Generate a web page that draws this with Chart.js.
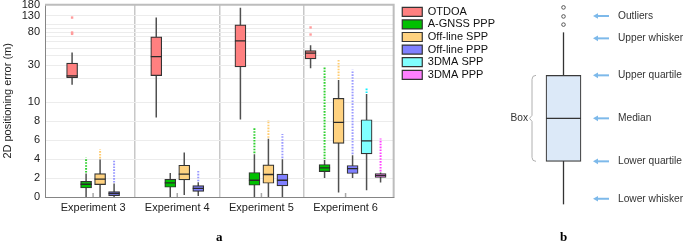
<!DOCTYPE html>
<html lang="en">
<head>
<meta charset="UTF-8">
<title>2D positioning error per experiment</title>
<script src="https://cdn.jsdelivr.net/npm/chart.js@4.4.1/dist/chart.umd.min.js"></script>
<style>
  body { margin: 0; background: #fff; }
  .figure { position: relative; width: 685px; height: 244px; overflow: hidden; background: #fff; }
  #panelA { position: absolute; left: 0; top: 0; }
  #panelB { position: absolute; left: 480px; top: 0; }
</style>
</head>
<body>
<div class="figure">
  <canvas id="panelB" width="205" height="244"></canvas>
  <canvas id="panelA" width="506" height="244"></canvas>
</div>
<script>
// ---- panel a data (metres), rows = methods, columns = experiments, null = not run
const experiments = ['Experiment 3', 'Experiment 4', 'Experiment 5', 'Experiment 6'];
const methods = ['OTDOA', 'A-GNSS PPP', 'Off-line SPP', 'Off-line PPP', '3DMA SPP', '3DMA PPP'];

const lowerWhisker = [
  [16.9, 8.4, 8.2, 27.5],
  [0, 0, 0, 2.0],
  [0, 0.2, 0, 0.47],
  [0, 0.1, 0, 2.0],
  [null, null, null, 0.71],
  [null, null, null, 1.53]
];
const lowerQuartile = [
  [20.8, 22.1, 28.6, 36.2],
  [0.95, 1.03, 1.24, 2.69],
  [1.31, 1.80, 1.45, 5.66],
  [0.15, 0.60, 1.17, 2.48],
  [null, null, null, 4.56],
  [null, null, null, 2.06]
];
const medians = [
  [21.9, 38.8, 61.8, 42.9],
  [1.35, 1.5, 1.77, 3.07],
  [1.88, 2.41, 2.38, 7.89],
  [0.39, 0.92, 1.77, 3.01],
  [null, null, null, 5.94],
  [null, null, null, 2.27]
];
const upperQuartile = [
  [31.9, 69.6, 99.4, 46.4],
  [1.66, 1.88, 2.59, 3.44],
  [2.48, 3.36, 3.39, 11.3],
  [0.57, 1.21, 2.41, 3.33],
  [null, null, null, 8.17],
  [null, null, null, 2.48]
];
const upperWhisker = [
  [43.7, 123, 164, 54.4],
  [2.48, 2.55, 4.53, 3.9],
  [3.97, 4.71, 6.15, 19.4],
  [1.42, 1.56, 4.0, 4.42],
  [null, null, null, 12.8],
  [null, null, null, 2.6]
];
// top of the column of outliers sitting above each upper whisker
const outlierTop = [
  [null, null, null, null],
  [4.14, null, 7.3, 28],
  [5.06, null, 8.13, 35.9],
  [3.97, 2.83, 6.65, 26.2],
  [null, null, null, 15.7],
  [null, null, null, 6.19]
];
// single OTDOA outliers per experiment
const otdoaOutliers = [[76, 79, 123], [], [], [74.5, 91.8]];

const yTickLabels = [0, 2, 4, 6, 8, 10, 30, 80, 130, 180];
const yGridValues = [0, 2, 4, 6, 8, 10, 20, 30, 40, 50, 60, 70, 80, 90, 100, 130, 180];

// ---- panel b (schematic units)
const keyWhiskers = [0, 4];
const keyQuartiles = [1, 3];
const keyMedian = 2;
const keyOutliers = [4.18, 4.37, 4.58];
const keyLabels = ['Outliers', 'Upper whisker', 'Upper quartile', 'Median', 'Lower quartile', 'Lower whisker'];
const keyLabelValues = [4.38, 3.86, 3, 2, 1, 0.13];

// ---- styles
const boxColors = ['#ff8080', '#00c000', '#ffd280', '#8080ff', '#80ffff', '#ff80ff'];
const outlierColors = ['#ff9c9c', '#2fd02f', '#ffcc70', '#9a9aff', '#10f0ff', '#ff40ff'];
const FONT = "'Liberation Sans', Arial, Helvetica, sans-serif";
Chart.defaults.font.family = FONT;
Chart.defaults.color = '#222';

// y axis: linear up to 10 m, logarithmic above
const DECADE = 8.23;
const warp = v => v <= 10 ? v : 10 + DECADE * Math.log10(v / 10);
const unwarp = w => w <= 10 ? w : 10 * Math.pow(10, (w - 10) / DECADE);

const LinearScale = Chart.registry.getScale('linear');
const CategoryScale = Chart.registry.getScale('category');

class SplitLogScale extends LinearScale {
  buildTicks() {
    this.start = this.min;
    this.end = this.max;
    return yGridValues.map(v => ({ value: v }));
  }
  getPixelForValue(value) {
    const lo = warp(this.min), hi = warp(this.max);
    return this.getPixelForDecimal((warp(value) - lo) / (hi - lo));
  }
  getValueForPixel(pixel) {
    const lo = warp(this.min), hi = warp(this.max);
    return unwarp(lo + this.getDecimalForPixel(pixel) * (hi - lo));
  }
}
SplitLogScale.id = 'splitLog';
SplitLogScale.defaults = LinearScale.defaults;

// category axis with a little empty space at both ends
const X_EDGE = 0.0714;
class PaddedCategoryScale extends CategoryScale {
  buildTicks() {
    const ticks = super.buildTicks();
    this._startValue -= X_EDGE;
    this._valueRange += 2 * X_EDGE;
    return ticks;
  }
}
PaddedCategoryScale.id = 'paddedCategory';
PaddedCategoryScale.defaults = CategoryScale.defaults;

Chart.register(SplitLogScale, PaddedCategoryScale);

// push the legend a few px away from the plot frame
const LEGEND_GAP = 7;
const legendGap = {
  id: 'legendGap',
  afterLayout(chart) {
    if (!chart.legend) return;
    chart.legend.left += LEGEND_GAP;
    chart.legend.right += LEGEND_GAP;
  }
};

// whiskers under the boxes, medians and outliers on top
const boxExtras = {
  id: 'boxExtras',
  beforeDatasetsDraw(chart) {
    const { ctx, chartArea, scales: { y } } = chart;
    ctx.save();
    ctx.beginPath();
    ctx.rect(chartArea.left, chartArea.top, chartArea.width, chartArea.height);
    ctx.clip();
    ctx.strokeStyle = '#505050';
    ctx.lineWidth = 1.5;
    methods.forEach((_, m) => {
      chart.getDatasetMeta(m).data.forEach((bar, e) => {
        if (lowerWhisker[m][e] == null) return;
        ctx.beginPath();
        ctx.moveTo(bar.x, y.getPixelForValue(lowerWhisker[m][e]));
        ctx.lineTo(bar.x, y.getPixelForValue(upperWhisker[m][e]));
        ctx.stroke();
      });
    });
    ctx.restore();
  },
  afterDatasetsDraw(chart) {
    const { ctx, chartArea, scales: { x, y } } = chart;
    ctx.save();
    ctx.beginPath();
    ctx.rect(chartArea.left, chartArea.top, chartArea.width, chartArea.height);
    ctx.clip();
    methods.forEach((_, m) => {
      chart.getDatasetMeta(m).data.forEach((bar, e) => {
        if (medians[m][e] == null) return;
        // median
        const ym = y.getPixelForValue(medians[m][e]);
        ctx.strokeStyle = '#2a2a2a';
        ctx.lineWidth = 1.3;
        ctx.setLineDash([]);
        ctx.beginPath();
        ctx.moveTo(bar.x - bar.width / 2, ym);
        ctx.lineTo(bar.x + bar.width / 2, ym);
        ctx.stroke();
        // column of outliers
        if (outlierTop[m][e] != null) {
          ctx.strokeStyle = outlierColors[m];
          ctx.lineWidth = 2;
          ctx.setLineDash([1.6, 1.3]);
          ctx.beginPath();
          ctx.moveTo(bar.x, y.getPixelForValue(upperWhisker[m][e]) - 1);
          ctx.lineTo(bar.x, y.getPixelForValue(outlierTop[m][e]));
          ctx.stroke();
        }
      });
    });
    ctx.setLineDash([]);
    ctx.fillStyle = outlierColors[0];
    chart.getDatasetMeta(0).data.forEach((bar, e) => {
      otdoaOutliers[e].forEach(v => {
        ctx.fillRect(bar.x - 1.2, y.getPixelForValue(v) - 1.2, 2.4, 2.4);
      });
    });
    ctx.restore();

    // frame top / right and small ticks at group centres
    ctx.save();
    ctx.strokeStyle = '#bdbdbd';
    ctx.lineWidth = 2;
    ctx.beginPath();
    ctx.moveTo(chartArea.left, chartArea.top);
    ctx.lineTo(chartArea.right, chartArea.top);
    ctx.lineTo(chartArea.right, chartArea.bottom);
    ctx.stroke();
    ctx.strokeStyle = '#a8a8a8';
    ctx.lineWidth = 1.5;
    x.ticks.forEach((t, i) => {
      const px = x.getPixelForTick(i);
      ctx.beginPath();
      ctx.moveTo(px, chartArea.bottom);
      ctx.lineTo(px, chartArea.bottom - 4);
      ctx.stroke();
    });
    ctx.restore();
  }
};

new Chart(document.getElementById('panelA'), {
  type: 'bar',
  data: {
    labels: experiments,
    datasets: methods.map((name, m) => ({
      label: name,
      data: experiments.map((_, e) => lowerQuartile[m][e] == null ? null : [lowerQuartile[m][e], upperQuartile[m][e]]),
      backgroundColor: boxColors[m],
      borderColor: '#333',
      borderWidth: 1.2,
      borderSkipped: false,
      barThickness: 14,
      maxBarThickness: 11,
      skipNull: true
    }))
  },
  options: {
    responsive: false,
    animation: false,
    events: [],
    layout: { padding: { top: 4.7, left: 0, right: 8, bottom: 0 } },
    plugins: {
      tooltip: { enabled: false },
      legend: {
        position: 'right',
        align: 'start',
        labels: { boxWidth: 20, boxHeight: 9, padding: 1.6, color: '#111', font: { size: 11 } }
      }
    },
    scales: {
      x: {
        type: 'paddedCategory',
        offset: true,
        afterFit: s => { s.height = 47; },
        grid: {
          offset: true,
          drawTicks: false,
          lineWidth: 1.5,
          color: c => (c.type === 'tick' && c.index > 0) ? '#c8c8c8' : 'rgba(0,0,0,0)'
        },
        border: { color: '#858585', width: 1 },
        ticks: { padding: 4, color: '#222', font: { size: 11 } },
        title: {
          display: true, text: 'a', color: '#000',
          padding: { top: 0, bottom: 0 },
          font: { family: "'Liberation Serif', 'DejaVu Serif', serif", size: 13, weight: 'bold', lineHeight: 1 }
        }
      },
      y: {
        type: 'splitLog',
        min: 0,
        max: 180,
        afterFit: s => { s.width = 45; s.paddingTop = 0; s.paddingBottom = 0; },
        grid: { color: '#ececec', lineWidth: 1, drawTicks: false },
        border: { color: '#858585', width: 1 },
        ticks: {
          autoSkip: false,
          padding: 5,
          color: '#222',
          font: { size: 11 },
          callback: v => yTickLabels.includes(v) ? String(v) : ''
        },
        title: {
          display: true, text: '2D positioning error (m)', color: '#222',
          padding: { top: 1.4, bottom: 0 },
          font: { size: 11 }
        }
      }
    }
  },
  plugins: [boxExtras, legendGap]
});

// ---- panel b: how to read a box
const keyPlugin = {
  id: 'boxKey',
  beforeDatasetsDraw(chart) {
    const { ctx, scales: { y } } = chart;
    const bar = chart.getDatasetMeta(1).data[0];
    ctx.save();
    ctx.strokeStyle = '#333';
    ctx.lineWidth = 1.3;
    ctx.beginPath();
    ctx.moveTo(bar.x, y.getPixelForValue(keyWhiskers[0]));
    ctx.lineTo(bar.x, y.getPixelForValue(keyWhiskers[1]));
    ctx.stroke();
    ctx.restore();
  },
  afterDatasetsDraw(chart) {
    const { ctx, scales: { y } } = chart;
    const bar = chart.getDatasetMeta(1).data[0];
    const left = bar.x - bar.width / 2;
    const right = bar.x + bar.width / 2;
    ctx.save();
    // median
    ctx.strokeStyle = '#333';
    ctx.lineWidth = 1.2;
    const ym = y.getPixelForValue(keyMedian);
    ctx.beginPath();
    ctx.moveTo(left, ym);
    ctx.lineTo(right, ym);
    ctx.stroke();
    // bracket + "Box"
    const top = y.getPixelForValue(keyQuartiles[1]);
    const bot = y.getPixelForValue(keyQuartiles[0]);
    const bx = left - 14;
    ctx.strokeStyle = '#b0b0b0';
    ctx.lineWidth = 1;
    ctx.beginPath();
    ctx.moveTo(bx + 4, top);
    ctx.quadraticCurveTo(bx, top, bx, top + 4);
    ctx.lineTo(bx, ym - 3);
    ctx.lineTo(bx - 2.5, ym);
    ctx.lineTo(bx, ym + 3);
    ctx.lineTo(bx, bot - 4);
    ctx.quadraticCurveTo(bx, bot, bx + 4, bot);
    ctx.stroke();
    ctx.fillStyle = '#333';
    ctx.font = '10.2px ' + FONT;
    ctx.textAlign = 'right';
    ctx.textBaseline = 'middle';
    ctx.fillText('Box', bx - 4, ym);
    // arrows and labels
    ctx.textAlign = 'left';
    keyLabels.forEach((txt, i) => {
      const ya = y.getPixelForValue(keyLabelValues[i]);
      const x0 = right + 12, x1 = right + 28;
      ctx.strokeStyle = '#7db9ea';
      ctx.fillStyle = '#7db9ea';
      ctx.lineWidth = 2;
      ctx.beginPath();
      ctx.moveTo(x0 + 3, ya);
      ctx.lineTo(x1, ya);
      ctx.stroke();
      ctx.beginPath();
      ctx.moveTo(x0, ya);
      ctx.lineTo(x0 + 5, ya - 2.8);
      ctx.lineTo(x0 + 5, ya + 2.8);
      ctx.closePath();
      ctx.fill();
      ctx.fillStyle = '#333';
      ctx.fillText(txt, right + 37, ya);
    });
    ctx.restore();
  }
};

new Chart(document.getElementById('panelB'), {
  type: 'bar',
  data: {
    labels: ['box'],
    datasets: [
      {
        type: 'line',
        data: keyOutliers.map(v => ({ x: 'box', y: v })),
        showLine: false,
        pointRadius: 1.8,
        pointBorderWidth: 1,
        pointBorderColor: '#555',
        pointBackgroundColor: '#fff'
      },
      {
        data: [keyQuartiles],
        backgroundColor: '#dce9f8',
        borderColor: '#3a3a3a',
        borderWidth: 1.2,
        borderSkipped: false,
        barThickness: 35
      }
    ]
  },
  options: {
    responsive: false,
    animation: false,
    events: [],
    layout: { padding: { left: 0, right: 43, top: 0, bottom: 0 } },
    plugins: { legend: { display: false }, tooltip: { enabled: false } },
    scales: {
      x: {
        offset: true,
        afterFit: s => { s.height = 24; },
        grid: { display: false },
        border: { display: false },
        ticks: { display: false },
        title: {
          display: true, text: 'b', color: '#000',
          padding: { top: 0, bottom: 0 },
          font: { family: "'Liberation Serif', 'DejaVu Serif', serif", size: 13, weight: 'bold', lineHeight: 1 }
        }
      },
      y: { display: false, min: -0.364, max: 4.636 }
    }
  },
  plugins: [keyPlugin]
});
</script>
</body>
</html>
